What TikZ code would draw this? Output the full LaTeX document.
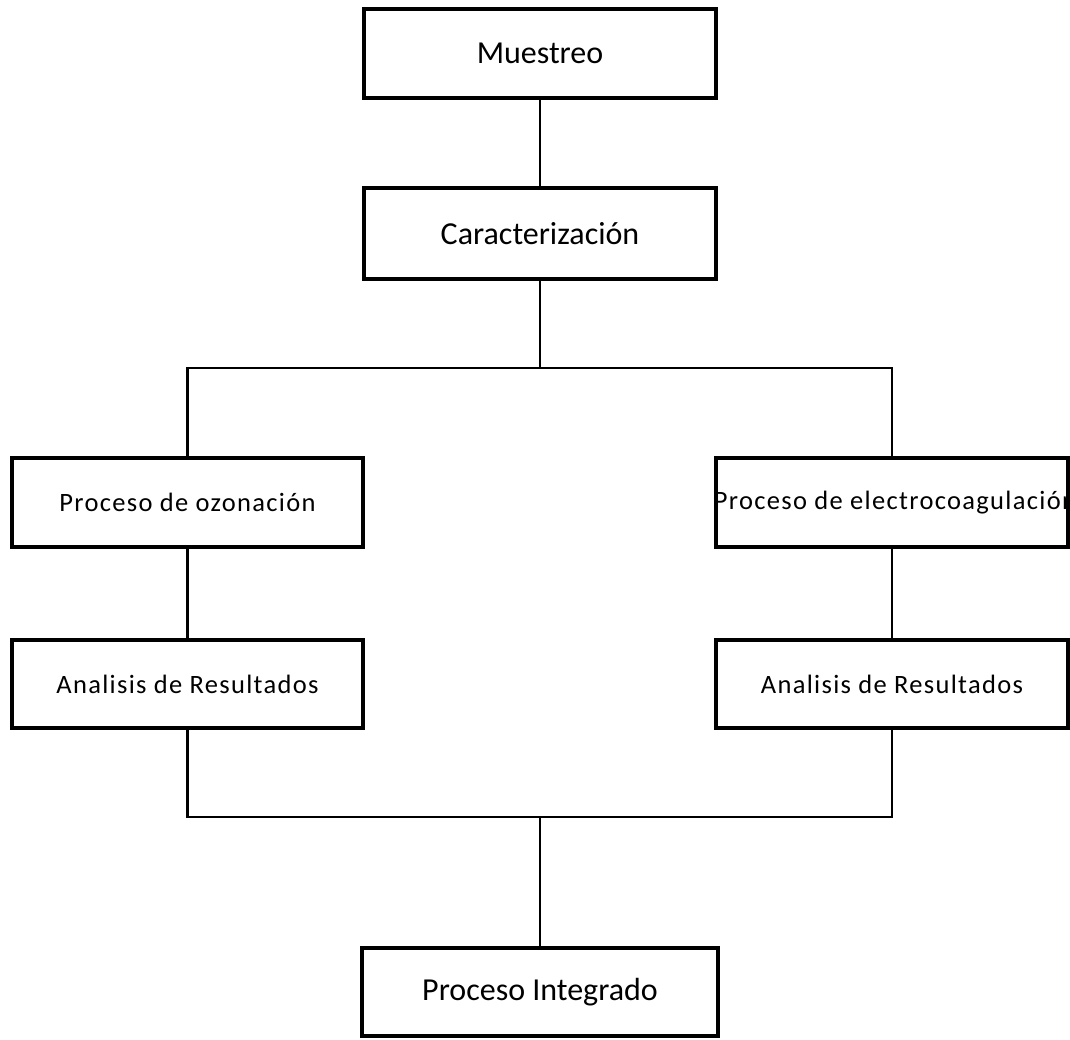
\documentclass[tikz,border=0pt]{standalone}
\usepackage{fontspec}
\setmainfont{Carlito}
\newfontfamily\spacedfont[LetterSpace=5]{Carlito}
\begin{document}
\begin{tikzpicture}[x=1pt,y=-1pt,
  box/.style={draw, line width=4pt, minimum width=#1, minimum height=89pt,
    inner sep=0pt, outer sep=0pt, anchor=center},
  box/.default=352pt,
  bigtext/.style={font=\fontsize{32}{38}\selectfont, inner sep=0pt},
  sidetext/.style={font=\spacedfont\fontsize{26.5}{32}\selectfont, inner sep=0pt},
  conn/.style={line width=2.7pt}]
\path[fill=white] (0,0) rectangle (1070,1040);
\useasboundingbox (0,0) rectangle (1070,1040);

% main boxes
\node[box] (mue) at (540,53.5) {};
\node[bigtext] (muet) at (mue.center) {Muestreo};
\node[box, minimum height=91pt] (car) at (540,233.5) {};
\node[bigtext] (cart) at (car.center) {Caracterización};

\node[box=351pt] (ozo) at (187.5,502.5) {};
\node[sidetext] (ozot) at (ozo.center) {Proceso de ozonación};
\node[box] (ele) at (892,502.5) {};
\begin{scope}
  \clip ([shift={(2pt,2pt)}]ele.north west) rectangle ([shift={(-2pt,-2pt)}]ele.south east);
  \node[sidetext] (elet) at ([xshift=3pt]ele.center) {Proceso de electrocoagulación};
\end{scope}

\node[box=351pt, minimum height=88pt] (an1) at (187.5,684) {};
\node[sidetext] (an1t) at (an1.center) {Analisis de Resultados};
\node[box, minimum height=88pt] (an2) at (892,684) {};
\node[sidetext] (an2t) at (an2.center) {Analisis de Resultados};

\node[box=356pt, minimum height=88pt] (int) at (540,992) {};
\node[bigtext] (intt) at (int.center) {Proceso Integrado};

% junctions
\coordinate (j1) at (540,368);
\coordinate (j2) at (540,817);

% connectors
\draw[conn] (mue.south) -- (car.north);
\draw[conn] (car.south) -- (j1);
\draw[conn] (ozo.north) |- (j1) -| (ele.north);
\draw[conn] (ozo.south) -- (an1.north);
\draw[conn] (ele.south) -- (an2.north);
\draw[conn] (an1.south) |- (j2) -| (an2.south);
\draw[conn] (j2) -- (int.north);
\end{tikzpicture}
\end{document}
